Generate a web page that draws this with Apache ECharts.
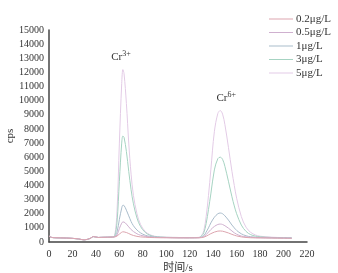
<!DOCTYPE html>
<html><head><meta charset="utf-8">
<script src="https://cdn.jsdelivr.net/npm/echarts@6/dist/echarts.min.js"></script>
<style>html,body{margin:0;padding:0;background:#fff}#c{width:338px;height:273px}</style>
</head><body><div id="c"></div>
<script>
var times = [0,2,5,10,15,20,25,30,35,38,42,45,50, 54,56,58,60,62,63,64,66,68,70,72,75,78,82,86,90,95,100,110,120, 128,130,132,134,136,138,141,144,146,148,150,153,156,158,160,164,168,172,176,180,190,200,207];
var seriesNames = ['0.2μg/L','0.5μg/L','1μg/L','3μg/L','5μg/L'];
var s02 = [420,330,300,290,280,260,220,150,250,380,320,330,340, 350,360,420,560,690,720,715,670,600,520,460,400,360,340,320,310,300,300,290,290, 300,310,340,410,500,590,700,770,780,765,720,640,540,480,430,360,320,300,290,290,280,270,260];
var s05 = [430,335,305,290,280,262,222,155,255,385,322,332,342, 350,370,500,950,1330,1420,1410,1270,1070,880,740,580,480,400,350,330,320,310,300,300, 300,330,380,520,700,880,1100,1240,1270,1240,1150,980,780,650,550,420,360,330,310,300,290,280,270];
var s1  = [425,332,302,292,282,258,218,152,252,390,325,335,345, 350,380,700,1600,2400,2600,2580,2250,1850,1450,1150,850,650,480,400,350,330,320,300,300, 310,360,450,700,1000,1350,1750,2000,2050,2000,1850,1550,1200,1000,820,580,440,370,340,320,300,290,280];
var s3  = [415,328,298,288,278,256,216,148,248,378,318,328,338, 350,420,1400,4300,7000,7500,7400,6400,5000,3700,2700,1700,1100,680,480,390,350,330,320,310, 320,420,650,1300,2300,3400,5100,5900,6000,5850,5350,4300,3200,2550,2000,1200,750,520,420,370,320,300,290];
var s5  = [410,326,296,286,276,254,214,146,246,375,316,326,336, 350,450,2200,7000,11200,12200,11900,9800,7000,4800,3300,2000,1250,750,520,410,360,340,320,310, 330,450,800,1800,3300,5100,7800,9100,9300,9050,8300,6700,5000,4000,3100,1800,1050,680,500,410,340,310,290];
var allValues = [s02,s05,s1,s3,s5];
var colors = ['#dca4ae','#cfb0cf','#a9bccb','#a6d3c2','#e3cbe6'];
var yTicks = {min:0,max:15000,interval:1000};
var xTicks = {min:0,max:220,interval:20};
var peakLabels = [{name:'Cr',sup:'3+',t:63,v:12200,series:4,dx:-2},{name:'Cr',sup:'6+',t:146,v:9300,series:4,dx:6}];

var serif = 'Liberation Serif, Times New Roman, Noto Sans CJK SC, serif';
var series = seriesNames.map(function(n,i){
  var s = {name:n,type:'line',smooth:0.35,showSymbol:false,symbol:'none',
    lineStyle:{width:1,color:colors[i]},itemStyle:{color:colors[i]},
    data: times.map(function(t,k){return [t,allValues[i][k]];}), z: 5-i};
  var mp = peakLabels.filter(function(p){return p.series===i;});
  if(mp.length){
    s.markPoint = {symbol:'circle',symbolSize:0,silent:true,
      data: mp.map(function(p){return {coord:[p.t,p.v],
        label:{show:true,position:'top',distance:5,offset:[p.dx,0],
          formatter:'{a|'+p.name+'}{b|'+p.sup+'}',
          rich:{a:{fontFamily:serif,fontSize:11,color:'#333'},
                b:{fontFamily:serif,fontSize:8,color:'#333',padding:[0,0,7,0]}}}};})};
  }
  return s;
});
var chart = echarts.init(document.getElementById('c'));
chart.setOption({
  animation:false,
  color:colors,
  grid:{left:49,right:31,top:30,bottom:31,containLabel:false,outerBoundsMode:'none'},
  legend:{orient:'vertical',left:264,top:8,itemWidth:24,itemHeight:2,itemGap:1.5,
    icon:'path://M0,0 L24,0 L24,1 L0,1 Z',
    textStyle:{fontFamily:serif,fontSize:11,color:'#333',lineHeight:12,padding:[0,0,0,-2]},
    data:seriesNames},
  xAxis:{type:'value',min:xTicks.min,max:xTicks.max,interval:xTicks.interval,
    name:'时间/s',nameLocation:'middle',nameGap:21,nameMoveOverlap:false,
    nameTextStyle:{fontFamily:serif,fontSize:11,color:'#333'},
    axisLine:{lineStyle:{color:'#444',width:1.5}},axisTick:{show:false},
    axisLabel:{fontFamily:serif,fontSize:10,color:'#333',margin:7},splitLine:{show:false}},
  yAxis:{type:'value',min:yTicks.min,max:yTicks.max,interval:yTicks.interval,
    name:'cps',nameLocation:'middle',nameGap:33,nameMoveOverlap:false,
    nameTextStyle:{fontFamily:serif,fontSize:11,color:'#333'},
    axisLine:{show:true,lineStyle:{color:'#444',width:1.5}},axisTick:{show:false},
    axisLabel:{fontFamily:serif,fontSize:10,color:'#333',margin:5,formatter:function(v){return String(v);}},splitLine:{show:false}},
  series:series
});
</script></body></html>
